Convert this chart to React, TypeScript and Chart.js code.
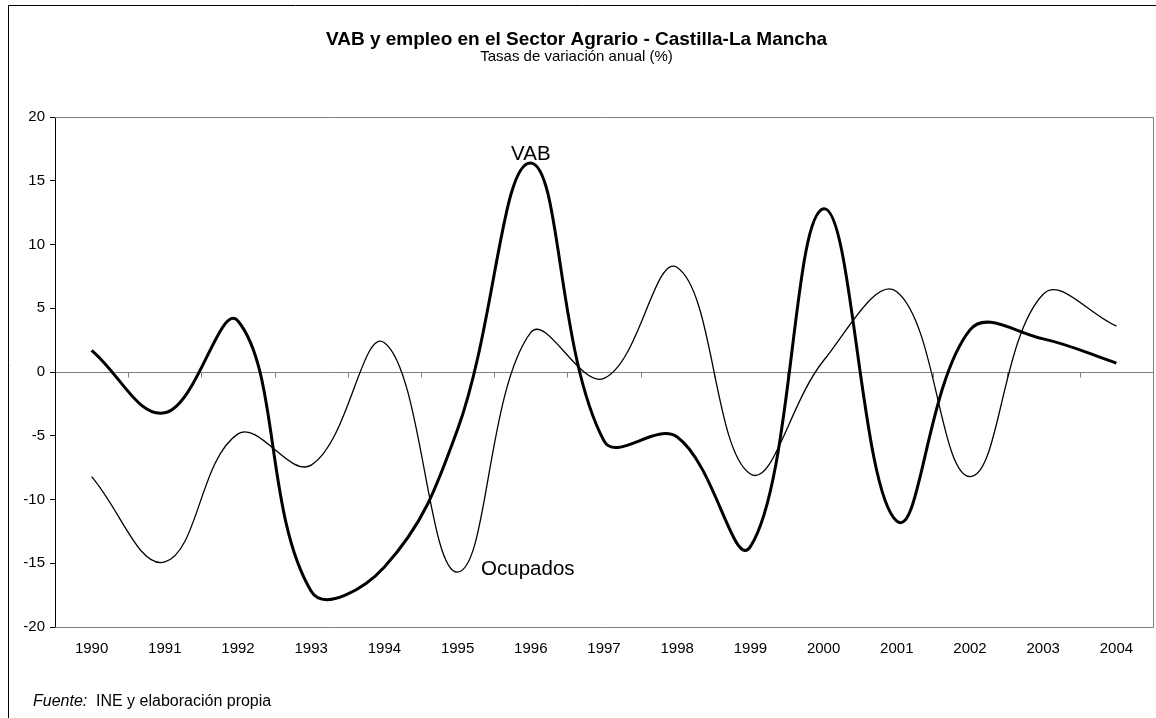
import React, { useEffect, useRef } from 'react';
import { Chart, registerables } from 'chart.js';

Chart.register(...registerables);

const FONT = '"Liberation Sans", Arial, Helvetica, sans-serif';

const years = ['1990', '1991', '1992', '1993', '1994', '1995', '1996', '1997', '1998', '1999', '2000', '2001', '2002', '2003', '2004'];
const vab = [1.7, -3.2, 4.0, -17.2, -15.3, -4.5, 16.4, -5.4, -5.1, -13.7, 12.8, -11.7, 3.3, 2.6, 0.7];
const ocupados = [-8.2, -14.9, -4.85, -7.3, 2.3, -15.7, 3.1, -0.5, 8.2, -8.0, 0.9, 6.3, -8.2, 6.1, 3.6];

const titleText = 'VAB y empleo en el Sector Agrario - Castilla-La Mancha';
const subtitleText = 'Tasas de variación anual (%)';
const sourceLabel = 'Fuente:';
const sourceText = 'INE y elaboración propia';
const yMin = -20;
const yMax = 20;
const yStep = 5;

export default function App() {
  const ref = useRef<HTMLCanvasElement | null>(null);

  useEffect(() => {
    const canvas = ref.current;
    if (!canvas) return;

    const decorations = {
      id: 'decorations',
      beforeDraw(chart: any) {
        const ctx = chart.ctx;
        ctx.save();
        ctx.fillStyle = '#fff';
        ctx.fillRect(0, 0, chart.width, chart.height);
        ctx.strokeStyle = '#000';
        ctx.lineWidth = 1;
        ctx.beginPath();
        ctx.moveTo(8.5, chart.height + 2);
        ctx.lineTo(8.5, 5.5);
        ctx.lineTo(chart.width + 2, 5.5);
        ctx.stroke();
        ctx.restore();
      },
      beforeDatasetsDraw(chart: any) {
        const ctx = chart.ctx;
        const a = chart.chartArea;
        const xs = chart.scales.x;
        const ys = chart.scales.y;
        ctx.save();
        ctx.strokeStyle = '#808080';
        ctx.lineWidth = 1;
        ctx.beginPath();
        ctx.moveTo(a.left, Math.round(a.top) + 0.5);
        ctx.lineTo(Math.round(a.right) + 0.5, Math.round(a.top) + 0.5);
        ctx.lineTo(Math.round(a.right) + 0.5, Math.round(a.bottom) + 0.5);
        ctx.lineTo(a.left, Math.round(a.bottom) + 0.5);
        ctx.stroke();
        // category tick marks on the zero line
        const y0 = Math.round(ys.getPixelForValue(0)) + 0.5;
        const step = xs.getPixelForValue(1) - xs.getPixelForValue(0);
        ctx.beginPath();
        for (let i = 1; i <= years.length; i++) {
          const x = Math.round(xs.getPixelForValue(i) - step / 2) + 0.5;
          ctx.moveTo(x, y0);
          ctx.lineTo(x, y0 + 5);
        }
        ctx.stroke();
        ctx.restore();
      },
      afterDraw(chart: any) {
        const ctx = chart.ctx;
        const xs = chart.scales.x;
        const ys = chart.scales.y;
        ctx.save();
        ctx.fillStyle = '#000';
        ctx.textBaseline = 'alphabetic';
        ctx.font = `20.5px ${FONT}`;
        ctx.textAlign = 'center';
        ctx.fillText('VAB', xs.getPixelForValue(6), ys.getPixelForValue(16.65));
        ctx.textAlign = 'left';
        ctx.fillText('Ocupados', xs.getPixelForValue(5) + 23.5, ys.getPixelForValue(-15.95));
        ctx.font = `italic 16px ${FONT}`;
        ctx.fillText(sourceLabel, 33, 706);
        ctx.font = `16px ${FONT}`;
        ctx.fillText(sourceText, 96, 706);
        ctx.restore();
      },
    };

    const chart = new Chart(canvas, {
      type: 'line',
      data: {
        labels: years,
        datasets: [
          {
            label: 'Ocupados',
            data: ocupados,
            borderColor: '#000',
            borderWidth: 1.3,
            pointRadius: 0,
            tension: 0.4,
            fill: false,
          },
          {
            label: 'VAB',
            data: vab,
            borderColor: '#000',
            borderWidth: 3,
            pointRadius: 0,
            tension: 0.4,
            fill: false,
          },
        ],
      },
      options: {
        responsive: false,
        animation: false,
        devicePixelRatio: 1,
        layout: { padding: { left: 0, right: 3, top: 0, bottom: 51 } },
        plugins: {
          legend: { display: false },
          tooltip: { enabled: false },
          title: {
            display: true,
            text: titleText,
            color: '#000',
            font: { family: FONT, size: 19, weight: 'bold', lineHeight: 1 },
            padding: { top: 30.5, bottom: 0 },
          },
          subtitle: {
            display: true,
            text: subtitleText,
            color: '#000',
            font: { family: FONT, size: 15, lineHeight: 1 },
            padding: { top: 0, bottom: 52.5 },
          },
        },
        scales: {
          x: {
            type: 'category',
            offset: true,
            grid: { display: false, drawTicks: false },
            border: { display: false },
            ticks: {
              color: '#000',
              font: { family: FONT, size: 15 },
              padding: 13,
              maxRotation: 0,
              autoSkip: false,
            },
            afterFit: (s: any) => {
              s.height = 40;
            },
          },
          y: {
            min: yMin,
            max: yMax,
            ticks: {
              stepSize: yStep,
              color: '#000',
              font: { family: FONT, size: 15 },
              padding: 5,
            },
            grid: {
              color: (c: any) => (c.tick && c.tick.value === 0 ? '#808080' : 'rgba(0,0,0,0)'),
              tickColor: '#000',
              tickLength: 5,
              drawTicks: true,
              lineWidth: 1,
            },
            border: { display: true, color: '#000', width: 1 },
            afterFit: (s: any) => {
              s.width = 55;
            },
          },
        },
      },
      plugins: [decorations],
    });

    return () => chart.destroy();
  }, []);

  return (
    <div style={{ position: 'absolute', left: 0, top: 0, width: 1156, height: 718, background: '#fff' }}>
      <canvas ref={ref} width={1156} height={718} style={{ display: 'block' }} />
    </div>
  );
}
